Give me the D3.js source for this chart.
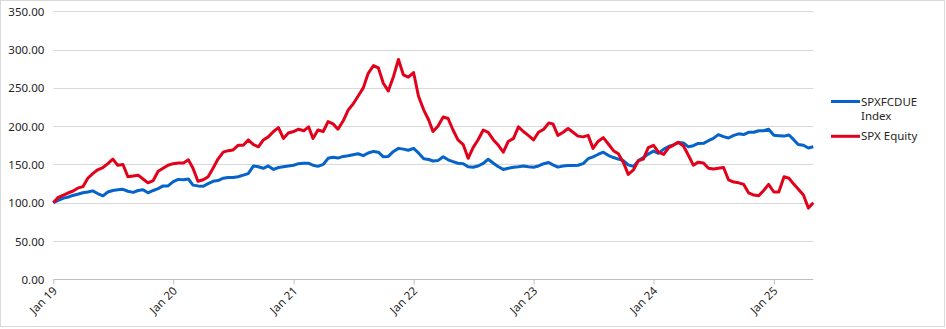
<!DOCTYPE html>
<html>
<head>
<meta charset="utf-8">
<script src="https://cdn.jsdelivr.net/npm/d3@7/dist/d3.min.js"></script>
<style>
  html, body { margin: 0; padding: 0; background: #fff; }
  svg { display: block; }
  text { font-family: "Noto Sans", "Open Sans", sans-serif; }
</style>
</head>
<body>
<svg id="chart" width="946" height="329"></svg>
<script>
// Rebased performance (start = 100), sampled on the 1st and 16th of each month
const seriesNames = ["SPXFCDUE Index", "SPX Equity"];

const spxfcdueIndex = [
  // 2019
  100,103,106,107.5,109.5,111,113,114,115.5,112,109,114,116,117,117.5,115,113.5,116,117,113,116,118.5,122,122,
  // 2020
  127.5,130.5,130,131,123,122,121.5,125,128,129,132,133,133,134,136,138,148,147,145,148,143.5,146,147,148,
  // 2021
  149,151,151.5,151.5,149,147.5,150,158,159.5,158.3,160.5,161.3,162.6,164,161.5,165,167,166,160,160.5,167,171,170,168.5,
  // 2022
  171,165,157.5,156.5,154.5,155,160,156,153.7,151.5,151,147,146.3,148,151.5,156.8,151.5,147,143.5,145,146.3,147,148,147,
  // 2023
  146.3,148,151,152.5,149.5,146.5,148,148.5,148.5,149,151,157.5,160,163,166,162,159,157,155,149.5,147.5,155,159,163.5,
  // 2024
  167.5,164.5,170,173.5,175.5,178.5,178,173,174.5,177.5,177.6,181,184,189,186.4,184.5,188,190,189,192,192,194,194,196,
  // 2025
  188,187.5,187,188.5,183,176,175,171.5,173
];

const spxEquity = [
  // 2019
  100,107,110,113,115,119,121,132,138,143,146,151,157,149,150,134,135,136,131,126,129,141,145,149,
  // 2020
  151,152,152,156,145,128,130,134,145,157,166,168,169,175,175,182,176,173,182,186,193,198,184,191,
  // 2021
  193,196,194,199,184,195,193,206,203,196,207,221,229,239,250,269,279,276,256,246,265,287,267,264,
  // 2022
  270,239,221,208,193,200,212,210,195,182,176,158,172,182,195,192,182,175,166,180,184,199,193,188,
  // 2023
  182,192,196,204,203,188,192,197,192,187,186,188,171,180,185,177,168,164,153,137,143,155,157,172,
  // 2024
  175,166,163,172,175,179,174,162,149,153,152,145,144,145,146,130,127,126,124,113,110,109,116,124,
  // 2025
  114,114,134,132,125,118,110,93,100
];

const seriesColors = ["#0563c9", "#e3001b"];

const yTicks = [0, 50, 100, 150, 200, 250, 300, 350];
const xTickYears = [2019, 2020, 2021, 2022, 2023, 2024, 2025];

// Sample dates: 1st and 16th of every month starting January 2019
const sampleDates = spxEquity.map((_, i) =>
  new Date(2019, Math.floor(i / 2), i % 2 ? 16 : 1));

const svg = d3.select("#chart");
const W = 946, H = 329;

// Chart frame
svg.append("rect")
  .attr("x", 0.5).attr("y", 0.5)
  .attr("width", W - 2).attr("height", H - 3)
  .attr("fill", "#fff").attr("stroke", "#d9d9d9");

const plot = { left: 53.3, right: 813.3, top: 11.3, bottom: 279.3 };

const x = d3.scaleTime()
  .domain([new Date(2019, 0, 1), new Date(2025, 4, 1)])
  .range([plot.left, plot.right]);

const y = d3.scaleLinear()
  .domain([0, 350])
  .range([plot.bottom, plot.top]);

// Horizontal gridlines
svg.append("g")
  .selectAll("line")
  .data(yTicks.filter(v => v > 0))
  .join("line")
  .attr("x1", plot.left).attr("x2", plot.right)
  .attr("y1", d => Math.round(y(d)) + 0.5).attr("y2", d => Math.round(y(d)) + 0.5)
  .attr("stroke", "#d9d9d9").attr("stroke-width", 1);

// Y axis labels
const yAxis = d3.axisLeft(y)
  .tickValues(yTicks)
  .tickFormat(d3.format(".2f"))
  .tickSize(0)
  .tickPadding(0);

svg.append("g")
  .attr("transform", `translate(${plot.left - 9},0)`)
  .call(yAxis)
  .call(g => g.select(".domain").remove())
  .call(g => g.selectAll("text")
    .attr("fill", "#262626")
    .attr("font-size", "11.5px")
    .attr("dy", "0.35em"));

// X axis (bottom)
const xAxis = d3.axisBottom(x)
  .tickValues(xTickYears.map(yr => new Date(yr, 0, 1)))
  .tickFormat(d3.timeFormat("Jan %y"))
  .tickSize(5)
  .tickSizeOuter(0);

svg.append("g")
  .attr("transform", `translate(0,${Math.round(plot.bottom) + 0.5})`)
  .call(xAxis)
  .call(g => g.select(".domain").attr("stroke", "#bfbfbf").attr("d", `M${plot.left},0H${plot.right}`))
  .call(g => g.selectAll(".tick line").attr("stroke", "#bfbfbf"))
  .call(g => g.selectAll("text")
    .attr("fill", "#262626")
    .attr("font-size", "11.5px")
    .attr("text-anchor", "end")
    .attr("dy", null)
    .attr("y", 0)
    .attr("transform", "translate(4,12) rotate(-45)"));

// Series lines
const line = d3.line()
  .x((d, i) => x(sampleDates[i]))
  .y(d => y(d));

const seriesData = [spxfcdueIndex, spxEquity];
svg.append("g")
  .selectAll("path")
  .data(seriesData)
  .join("path")
  .attr("fill", "none")
  .attr("stroke", (d, i) => seriesColors[i])
  .attr("stroke-width", 3)
  .attr("stroke-linejoin", "round")
  .attr("d", d => line(d));

// Legend
const legend = svg.append("g");
const legendItems = [
  { lineY: 101.5, lines: ["SPXFCDUE", "Index"], color: seriesColors[0] },
  { lineY: 136.3, lines: ["SPX Equity"], color: seriesColors[1] }
];
legendItems.forEach(item => {
  legend.append("line")
    .attr("x1", 831).attr("x2", 860)
    .attr("y1", item.lineY).attr("y2", item.lineY)
    .attr("stroke", item.color).attr("stroke-width", 3);
  item.lines.forEach((t, k) => {
    legend.append("text")
      .attr("x", 861).attr("y", item.lineY + 4 + k * 14.5)
      .attr("fill", "#262626")
      .attr("font-size", "11.5px")
      .text(t);
  });
});
</script>
</body>
</html>
